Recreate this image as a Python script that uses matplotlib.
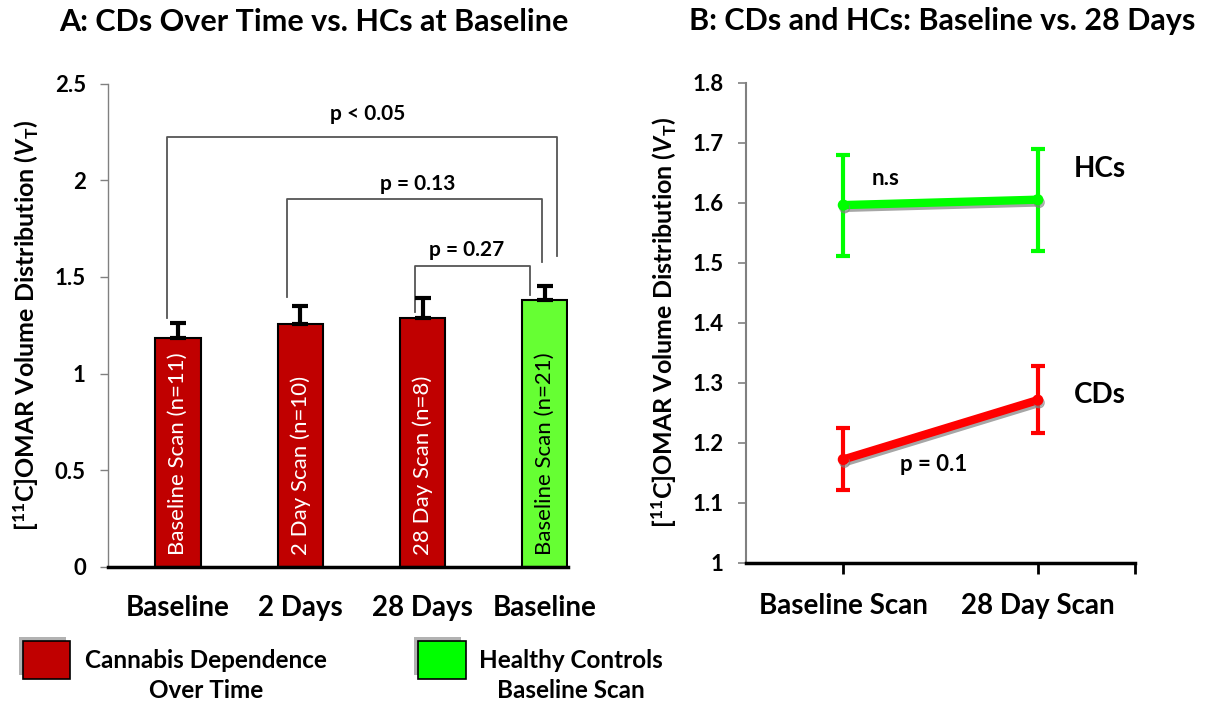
import matplotlib.pyplot as plt
import matplotlib as mpl
import matplotlib.patheffects as pe
from matplotlib.patches import Rectangle

plt.rcParams['font.family'] = 'Lato'
plt.rcParams['font.weight'] = 'bold'
plt.rcParams['axes.titleweight'] = 'bold'
plt.rcParams['axes.labelweight'] = 'bold'
plt.rcParams['mathtext.fontset'] = 'custom'
plt.rcParams['mathtext.rm'] = 'Lato:bold'
plt.rcParams['mathtext.it'] = 'Lato:bold:italic'
plt.rcParams['mathtext.bf'] = 'Lato:bold'

# ---- panel A data ----
groups = ['Baseline', '2 Days', '28 Days', 'Baseline']
bar_text = ['Baseline Scan (n=11)', '2 Day Scan (n=10)', '28 Day Scan (n=8)', 'Baseline Scan (n=21)']
means_a = [1.183, 1.256, 1.287, 1.380]
sem_a = [0.078, 0.093, 0.103, 0.072]
is_hc = [False, False, False, True]

# brackets: x_left, x_right, y_top, y_left_end, y_right_end, label, label x, label y
brackets = [
    (-0.09, 3.10, 2.222, 1.287, 1.607, 'p < 0.05', 1.55, 2.34),
    (0.89, 2.98, 1.902, 1.395, 1.576, 'p = 0.13', 1.96, 1.98),
    (1.94, 2.88, 1.556, 1.318, 1.406, 'p = 0.27', 2.36, 1.64),
]

# ---- panel B data ----
scans = ['Baseline Scan', '28 Day Scan']
hc_mean = [1.596, 1.605]
hc_lo = [1.511, 1.520]
hc_hi = [1.680, 1.689]
cd_mean = [1.172, 1.271]
cd_lo = [1.121, 1.216]
cd_hi = [1.224, 1.328]

red = '#C00000'
green_bar = '#66FF33'
green_line = '#00FF00'
line_red = '#FF0000'

fig = plt.figure(figsize=(12.06, 7.03), dpi=100)

ylab = r'[$^{11}$C]OMAR Volume Distribution ($\it{V}_{\mathrm{T}}$)'

# ================= panel A =================
ax = fig.add_axes([0.0896, 0.1935, 0.3814, 0.6877])
x = list(range(len(groups)))
cols = [green_bar if h else red for h in is_hc]
ax.bar(x, means_a, width=0.37, color=cols, edgecolor='black', linewidth=1.5, zorder=2)
ax.errorbar(x, means_a, yerr=[[0]*4, sem_a], fmt='none', ecolor='black',
            elinewidth=3, capsize=6, capthick=3, zorder=3)
for xi, t, h in zip(x, bar_text, is_hc):
    ax.text(xi, 0.06, t, rotation=90, ha='center', va='bottom', fontsize=16,
            fontweight='normal', color='black' if h else 'white', zorder=4)

for xl, xr, yt, yl, yr, lab, tx, ty in brackets:
    ax.plot([xl, xl, xr, xr], [yl, yt, yt, yr], color='#555555', lw=1.3, zorder=1)
    ax.text(tx, ty, lab, ha='center', va='center', fontsize=15)

ax.set_xlim(-0.572, 3.19)
ax.set_ylim(0, 2.5)
ax.set_yticks([0, 0.5, 1, 1.5, 2, 2.5])
ax.set_yticklabels(['0', '0.5', '1', '1.5', '2', '2.5'], fontsize=16)
ax.set_xticks(x)
ax.set_xticklabels(groups, fontsize=20)
ax.tick_params(axis='x', length=0, pad=20)
ax.tick_params(axis='y', length=6, color='#808080', width=1, pad=10)
for s in ['top', 'right']:
    ax.spines[s].set_visible(False)
ax.spines['left'].set_color('#808080')
ax.spines['left'].set_linewidth(1)
ax.spines['bottom'].set_linewidth(2.5)
ax.set_ylabel(ylab, fontsize=18, labelpad=10)
ax.set_title('A: CDs Over Time vs. HCs at Baseline', fontsize=22, pad=38, x=0.448)

# legend below panel A
shadow = [pe.SimplePatchShadow(offset=(-3, 3), shadow_rgbFace='gray', alpha=0.6), pe.Normal()]
for x0, c in [(0.019, red), (0.347, green_line)]:
    r = Rectangle((x0, 0.034), 0.039, 0.054, transform=fig.transFigure,
                  facecolor=c, edgecolor='black', linewidth=1.2)
    r.set_path_effects(shadow)
    fig.add_artist(r)
fig.text(0.171, 0.039, 'Cannabis Dependence\nOver Time', ha='center', va='center',
         fontsize=17.5, linespacing=1.4)
fig.text(0.473, 0.039, 'Healthy Controls\nBaseline Scan', ha='center', va='center',
         fontsize=17.5, linespacing=1.4)

# ================= panel B =================
bx = fig.add_axes([0.6186, 0.1996, 0.3226, 0.6828])
xp = [1, 2]
shad = [pe.SimpleLineShadow(offset=(1, -2), shadow_color='gray', alpha=0.7), pe.Normal()]
for m, lo, hi, c in [(hc_mean, hc_lo, hc_hi, green_line), (cd_mean, cd_lo, cd_hi, line_red)]:
    err = [[mi - l for mi, l in zip(m, lo)], [h - mi for mi, h in zip(m, hi)]]
    bx.errorbar(xp, m, yerr=err, fmt='none', ecolor=c, elinewidth=3, capsize=5,
                capthick=3, zorder=2)
    bx.plot(xp, m, color=c, lw=6, marker='o', ms=7, solid_capstyle='round',
            path_effects=shad, zorder=3)

bx.text(1.216, 1.641, 'n.s', ha='center', va='center', fontsize=16)
bx.text(1.464, 1.164, 'p = 0.1', ha='center', va='center', fontsize=16)
bx.text(2.32, 1.656, 'HCs', ha='center', va='center', fontsize=20)
bx.text(2.32, 1.28, 'CDs', ha='center', va='center', fontsize=20)

bx.set_xlim(0.5, 2.5)
bx.set_ylim(1.0, 1.8)
bx.set_yticks([1, 1.1, 1.2, 1.3, 1.4, 1.5, 1.6, 1.7, 1.8])
bx.set_yticklabels(['1', '1.1', '1.2', '1.3', '1.4', '1.5', '1.6', '1.7', '1.8'], fontsize=16)
bx.set_xticks([1, 2, 2.5])
bx.set_xticklabels(scans + [''], fontsize=20)
bx.tick_params(axis='x', length=8, width=2, color='black', pad=14)
bx.tick_params(axis='y', length=6, width=1.2, color='#808080', pad=10)
for s in ['top', 'right']:
    bx.spines[s].set_visible(False)
bx.spines['left'].set_color('#808080')
bx.spines['left'].set_linewidth(1.5)
bx.spines['bottom'].set_linewidth(2.5)
bx.set_ylabel(ylab, fontsize=18, labelpad=10)
bx.set_title('B: CDs and HCs: Baseline vs. 28 Days', fontsize=22, pad=38, x=0.504)

fig.savefig('out.png', dpi=100)
